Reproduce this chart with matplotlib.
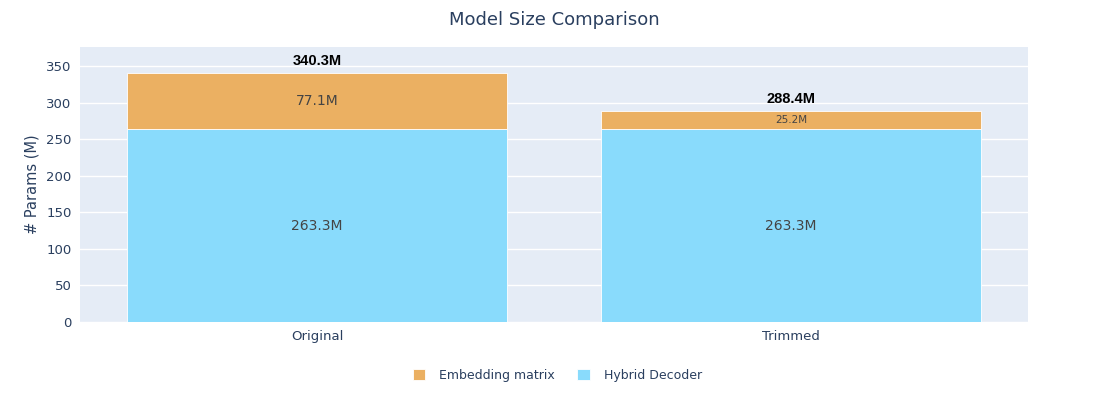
import matplotlib.pyplot as plt

models = ['Original', 'Trimmed']
decoder = [263.3, 263.3]
embedding = [77.1, 25.2]
totals = [340.3, 288.4]

blue = '#89DBFC'
orange = '#EBB062'
text_col = '#2a3f5f'

plt.rcParams['font.family'] = ['DejaVu Sans']

fig = plt.figure(figsize=(11.08, 4.0), dpi=100)
ax = fig.add_axes([80 / 1108, 78 / 400, 948 / 1108, 275 / 400])
ax.set_facecolor('#E5ECF6')

x = list(range(len(models)))
ax.bar(x, decoder, width=0.8, color=blue, edgecolor='white', linewidth=0.6,
       label='Hybrid Decoder', zorder=2)
ax.bar(x, embedding, width=0.8, bottom=decoder, color=orange, edgecolor='white',
       linewidth=0.6, label='Embedding matrix', zorder=2)

for i in x:
    ax.text(i, decoder[i] / 2, f'{decoder[i]:.1f}M', ha='center', va='center',
            fontsize=10, color='#444444', zorder=3)
    fs = 10 if embedding[i] > 40 else 7.5
    ax.text(i, decoder[i] + embedding[i] / 2, f'{embedding[i]:.1f}M', ha='center',
            va='center', fontsize=fs, color='#444444', zorder=3)
    ax.annotate(f'{totals[i]:.1f}M', (i, totals[i]), xytext=(0, 9),
                textcoords='offset points', ha='center', va='center',
                fontsize=10.5, fontweight='bold', color='black',
                family='Liberation Sans', zorder=3)

ax.set_xlim(-0.5, 1.5)
ax.set_ylim(0, 376)
ax.set_yticks(range(0, 351, 50))
ax.set_xticks(x)
ax.set_xticklabels(models)
ax.grid(axis='y', color='white', linewidth=1, zorder=1)
ax.set_axisbelow(True)
for s in ax.spines.values():
    s.set_visible(False)
ax.tick_params(length=0, colors=text_col, labelsize=9.5, pad=6)
ax.set_ylabel('# Params (M)', color=text_col, fontsize=10.5, labelpad=5)

fig.suptitle('Model Size Comparison', x=0.5, y=0.972, fontsize=13, color=text_col)

handles, labels = ax.get_legend_handles_labels()
leg = fig.legend(handles[::-1], labels[::-1], loc='center', bbox_to_anchor=(0.503, 0.062),
                 ncol=2, frameon=False, fontsize=9, handlelength=1.0,
                 handleheight=1.0, handletextpad=1.1, columnspacing=1.8)
for t in leg.get_texts():
    t.set_color(text_col)

fig.savefig('out.png', dpi=100)
